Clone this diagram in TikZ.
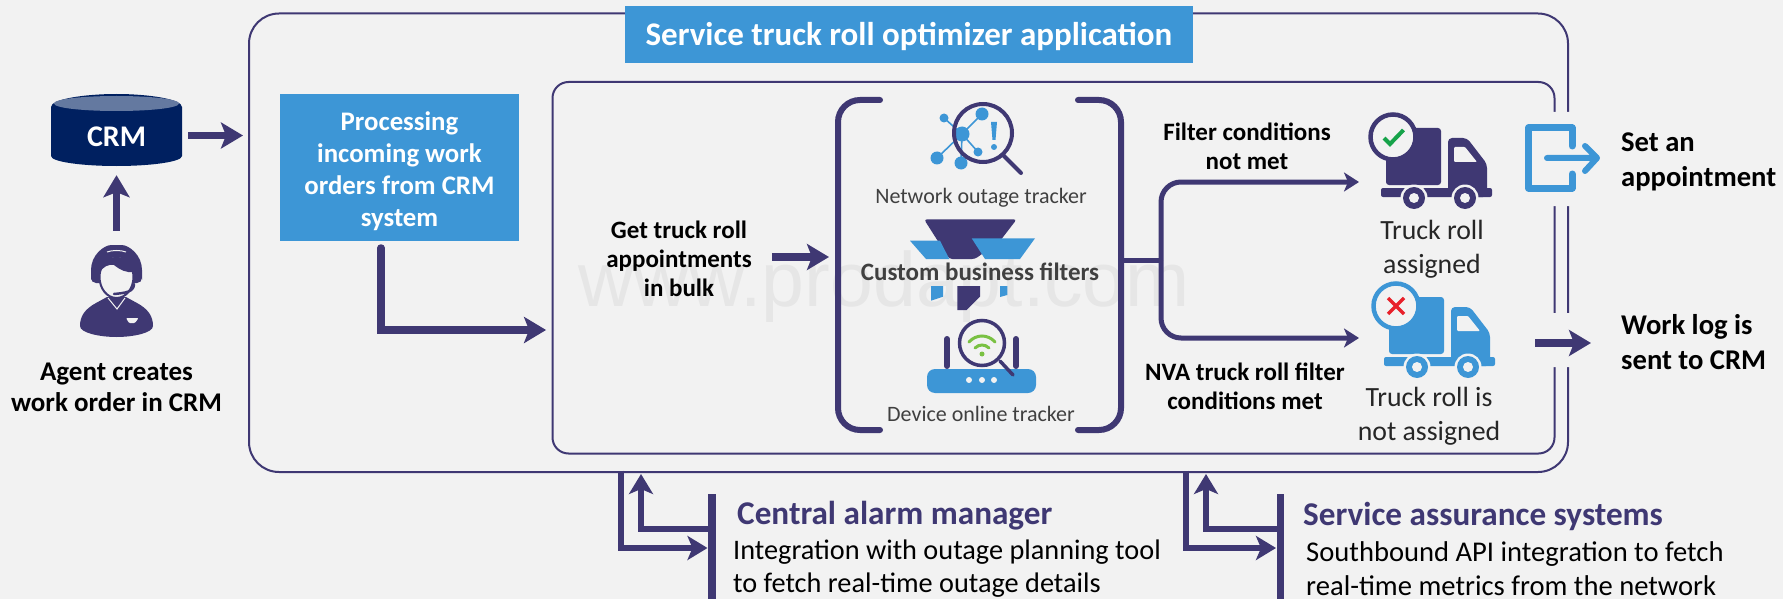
\documentclass[tikz,border=0pt]{standalone}
\usepackage{fontspec}
\setmainfont{Carlito}
\usetikzlibrary{arrows.meta,positioning,calc}
\definecolor{pagecol}{HTML}{F2F2F2}
\definecolor{flowcol}{HTML}{3F3873}
\definecolor{bluecol}{HTML}{3D96D6}
\definecolor{crmcol}{HTML}{002060}
\definecolor{crmtop}{HTML}{6479A0}
\definecolor{markcol}{HTML}{E6E6E6}
\definecolor{okcol}{HTML}{16A34A}
\definecolor{nocol}{HTML}{E8202A}
\definecolor{wificol}{HTML}{7AC143}
\newcommand{\truckicon}[3]{
	\begin{scope}[shift={(#1,#2)}]
		\fill [#3, rounded corners=3pt] (-7,-9) -- (48,-9) -- (48,48) -- (-7,48) -- cycle;
		\fill [#3, rounded corners=4pt] (55,52) -- (55,1) -- (74,1) -- (94,27) -- (94,60) -- (55,60) -- cycle;
		\fill [pagecol, rounded corners=1pt] (61,10) -- (72,10) -- (84,25) -- (61,25) -- cycle;
		\fill [#3, rounded corners=2pt] (-12,51) -- (99,51) -- (99,60) -- (-12,60) -- cycle;
		\foreach \wx in {21,72} {
			\fill [pagecol] (\wx,61) circle (13.5pt);
			\fill [#3] (\wx,61) circle (11pt);
			\fill [pagecol] (\wx,61) circle (5pt);
		}
		\filldraw [fill=pagecol, draw=#3, line width=4.5pt] (0,0) circle (22.5pt);
	\end{scope}
}
\begin{document}
\begin{tikzpicture}[x=1pt,y=-1pt,
			panel/.style={draw=flowcol,line width=2pt,rectangle,inner sep=0pt},
			bluebox/.style={fill=bluecol,inner sep=0pt},
			boxtxt/.style={inner sep=0pt,align=center,text=white,font=\fontsize{26.8}{32}\selectfont\bfseries},
			lbl/.style={inner sep=0pt,align=center,text=black,font=\fontsize{25}{29}\selectfont\bfseries},
			plain/.style={inner sep=0pt,align=center,text=black!85,font=\fontsize{27.8}{33.5}\selectfont},
			tool/.style={inner sep=0pt,text=black!75,font=\fontsize{22}{26}\selectfont},
			head/.style={inner sep=0pt,anchor=west,text=flowcol,font=\fontsize{33.2}{38}\selectfont\bfseries},
			body/.style={inner sep=0pt,anchor=west,align=left,text=black,font=\fontsize{28.3}{33.5}\selectfont},
			side/.style={inner sep=0pt,anchor=west,align=left,text=black,font=\fontsize{28.6}{35}\selectfont\bfseries},
			flow/.style={draw=flowcol,line width=7.5pt,-{Stealth[length=22pt,width=26pt,inset=5pt]}},
			fork/.style={draw=flowcol,line width=5pt,-{Stealth[length=15pt,width=19pt,inset=4pt]}},
			gap/.style={fill=pagecol,draw=none}]
		\useasboundingbox (0,0) rectangle (1783,599);
		\fill [pagecol] (0,0) rectangle (1783,599);
		\node at (884,287) [text=markcol,inner sep=0pt,font=\fontsize{77}{80}\selectfont\fontspec{Liberation Sans}] {www.prodapt.com};

		\path 	(908.5,242.75) 	node 	(outer) [panel, rounded corners=30pt, minimum width=1319pt, minimum height=458.5pt] {}
		        (1053.5,267.75) node 	(inner) [panel, rounded corners=16pt, minimum width=1002pt, minimum height=371.5pt] {};
		\fill [gap] (1550,112) rectangle (1573,206) (1550,313) rectangle (1573,367);
		\path 	(909,34.5) 	node 	(title) [bluebox, minimum width=568pt, minimum height=56.5pt, label={[boxtxt, yshift=-2pt, font=\fontsize{33}{38}\selectfont\bfseries]center:Service truck roll optimizer application}] {}
		        (399.5,167.5) node 	(proc) [bluebox, minimum width=239pt, minimum height=147pt, label={[boxtxt, yshift=-3.5pt]center:Processing\\incoming work\\orders from CRM\\system}] {};

		\fill [crmcol] (51,107) .. controls (51,99) and (85,94) .. (116.5,94) .. controls (148,94) and (182,99) .. (182,107) -- (182,156) .. controls (182,162) and (150,166) .. (116.5,166) .. controls (83,166) and (51,162) .. (51,156) -- cycle;
		\fill [crmtop] (116.5,96) .. controls (150,96) and (179,99) .. (179,103.5) .. controls (179,108) and (150,111) .. (116.5,111) .. controls (83,111) and (54,108) .. (54,103.5) .. controls (54,99) and (83,96) .. (116.5,96) -- cycle;
		\path 	(116.5,135.5) 	node 	(crm) [inner sep=0pt, minimum width=131pt, minimum height=60pt, label={[boxtxt, yshift=-1.5pt, font=\fontsize{30}{32}\selectfont\bfseries]center:CRM}] {}
		        (116.5,291) node 	(agent) [inner sep=0pt, minimum width=73pt, minimum height=92pt] {}
		        (116.5,387) node 	(agentlbl) [lbl, font=\fontsize{27}{31}\selectfont\bfseries] {Agent creates\\work order in CRM}
		        (679,259) node 	(bulk) [lbl] {Get truck roll\\appointments\\in bulk}
		        (981,198) node 	(outage) [tool] {Network outage tracker}
		        (980,272) node 	(filters) [tool, font=\fontsize{25}{26}\selectfont\bfseries] {Custom business filters}
		        (981,414) node 	(online) [tool] {Device online tracker}
		        (1247,146) node 	(notmet) [lbl] {Filter conditions\\not met}
		        (1245,386) node 	(met) [lbl] {NVA truck roll filter\\conditions met}
		        (1432,249) node 	(assigned) [plain] {Truck roll\\assigned}
		        (1429,416) node 	(notassigned) [plain] {Truck roll is\\not assigned}
		        (1621,162) node 	(setappt) [side] {Set an\\appointment}
		        (1621,342) node 	(worklog) [side] {Work log is\\sent to CRM}
		        (737,516) node 	(alarm) [head] {Central alarm manager}
		        (733,568.5) node 	(alarmtxt) [body] {Integration with outage planning tool\\to fetch real-time outage details}
		        (1303,516) node 	(assure) [head] {Service assurance systems}
		        (1306,568.5) node 	(assuretxt) [body, font=\fontsize{28.6}{33.5}\selectfont] {Southbound API integration to fetch\\real-time metrics from the network};

		\coordinate (leftbr) at (838,257);
		\coordinate (rightbr) at (1121,260);
		\coordinate (forkpt) at (1161,260);
		\coordinate (toassigned) at (1359,182);
		\coordinate (tonotassigned) at (1359,338);
		\coordinate (procout) at (381,248);
		\coordinate (bulkin) at (552.6,330);
		\coordinate (logout) at (1535,343);
		\coordinate (logtip) at (1591,343);

		\draw [flow, shorten <=6pt, shorten >=5pt] (crm.east) -- (crm.east -| outer.west);
		\draw [flow, shorten <=14pt, shorten >=9.5pt] (agent.north) -- (crm.south);
		\draw [flow, line cap=round, shorten >=6.5pt] (procout) |- (bulkin);
		\draw [flow, shorten <=20pt, shorten >=9pt] (bulk.east |- leftbr) -- (leftbr);
		\draw [flow] (logout) -- (logtip);

		\draw [flowcol, line width=6pt, line cap=round, rounded corners=22pt] (880,100) -- (838,100) -- (838,430) -- (880,430);
		\draw [flowcol, line width=6pt, line cap=round, rounded corners=22pt] (1078,100) -- (1121,100) -- (1121,430) -- (1078,430);
		\draw [flowcol, line width=5pt] (rightbr) -- (forkpt);
		\draw [fork, rounded corners=20pt] (forkpt) |- (toassigned);
		\draw [fork, rounded corners=20pt] (forkpt) |- (tonotassigned);

		\coordinate (alarmbar) at (712,494);
		\coordinate (assurebar) at (1280.5,494);
		\draw [flowcol, line width=7.5pt] (alarmbar) -- (712,599);
		\draw [flowcol, line width=7.5pt] (assurebar) -- (1280.5,599);
		\foreach \bx/\ox/\rx in {712/621/641,1280.5/1186/1206} {
			\draw [flow, line width=6.5pt, -{Stealth[length=20pt,width=24pt,inset=5pt]}] (\ox,470.5) |- (\bx-4.5,548);
			\draw [flow, line width=6pt, -{Stealth[length=20pt,width=24pt,inset=5pt]}] (\bx,529) -| (\rx,474);
		}

		\fill [flowcol, rounded corners=5pt] (91,283) -- (91,275) .. controls (91,255) and (104,245) .. (116.5,245) .. controls (129,245) and (142,255) .. (142,275) -- (142,283) -- cycle;
		\draw [pagecol, line width=1pt] (107,252) .. controls (112,250) and (121,250) .. (126,252);
		\fill [flowcol] (107,297) -- (96,303) .. controls (85,309) and (80,316) .. (80,326) .. controls (80,333) and (100,337) .. (116.5,337) .. controls (133,337) and (153,333) .. (153,326) .. controls (153,316) and (148,309) .. (137,303) -- (126,297) -- cycle;
		\draw [pagecol, line width=1pt] (108,298) -- (117,309) -- (125,298);
		\filldraw [fill=pagecol, draw=flowcol, line width=2pt] (116.5,277) ellipse (17pt and 21pt);
		\fill [flowcol] (100,272) .. controls (101,262) and (108,257) .. (116.5,257) .. controls (125,257) and (132,262) .. (133,272) .. controls (127,273) and (120,270) .. (114,265) .. controls (108,264) and (103,267) .. (100,272) -- cycle;
		\draw [flowcol, line width=2.5pt, line cap=round] (134,284) .. controls (134,292) and (125,293) .. (114,294);
		\fill [pagecol, rounded corners=1pt] (126,318) -- (138.5,318) -- (135,323) -- (129,323) -- cycle;

		\draw [bluecol, line width=1.6pt] (962,134) -- (982,114) (962,134) -- (944,118) (962,134) -- (937,158) (962,134) -- (961,163) (962,134) -- (978,152);
		\foreach \nx/\ny/\nr in {962/134/7.5,982/114/6.5,944/118/4.5,937/158/6.5,961/163/6.5,978/152/4.5} {
			\fill [bluecol] (\nx,\ny) circle (\nr pt);
		}
		\draw [flowcol, line width=4pt] (983,133) circle (29pt);
		\draw [flowcol, line width=4pt, line cap=round] (1003,155) -- (1021,173);
		\fill [bluecol] (991,122) -- (997,122) -- (995.5,140) -- (992.5,140) -- cycle;
		\fill [bluecol] (994,147) circle (3pt);

		\fill [flowcol, rounded corners=3pt] (924,219.3) -- (1016.7,219.3) -- (1000,241) -- (975,259) -- (949.3,259) -- cycle;
		\fill [bluecol] (910,240.7) -- (940,240.7) -- (949.3,259) -- (926,259) -- cycle;
		\fill [bluecol] (971.7,238.3) -- (1035,238.3) -- (1020,259) -- (985,259) -- cycle;
		\fill [bluecol] (931,286) -- (943,286) -- (943,296.7) -- (931,300.7) -- cycle;
		\fill [flowcol] (957.3,286) -- (980,286) -- (980,296.7) -- (966.7,310) -- (957.3,310) -- cycle;
		\fill [bluecol] (1000,286) -- (1007.3,286) -- (1007.3,295) -- (1000,297) -- cycle;

		\draw [flowcol, line width=6pt, line cap=round] (947,339) -- (947,366) (1016,339) -- (1016,366);
		\fill [bluecol, rounded corners=8pt] (927,393) -- (927,369) -- (1036,369) -- (1036,393) -- cycle;
		\foreach \dx in {969,982,994} {
			\fill [pagecol] (\dx,380) circle (3pt);
		}
		\filldraw [fill=pagecol, draw=flowcol, line width=3.5pt] (982,343) circle (22.5pt);
		\draw [flowcol, line width=3.5pt, line cap=round] (1000,361) -- (1013,375);
		\draw [wificol, line width=3pt, line cap=round] (969,342) .. controls (976,334) and (988,334) .. (995,342) (975,348) .. controls (979,344) and (985,344) .. (989,348);
		\fill [wificol] (982,354) circle (2.5pt);

		\truckicon{1393}{137}{flowcol}
		\draw [okcol, line width=4pt] (1384,138) -- (1390,144) -- (1403.5,130);
		\truckicon{1396}{306}{bluecol}
		\draw [nocol, line width=3.5pt] (1388,298) -- (1404,314) (1388,314) -- (1404,298);

		\draw [bluecol, line width=7pt, line join=round, line cap=round] (1572,146) -- (1572,128) -- (1528.5,128) -- (1528.5,188) -- (1572,188) -- (1572,174);
		\draw [bluecol, line width=6pt, line cap=round, line join=round] (1547,158) -- (1596,158) (1585,146) -- (1597,158) -- (1585,171);
	\end{tikzpicture}
\end{document}
